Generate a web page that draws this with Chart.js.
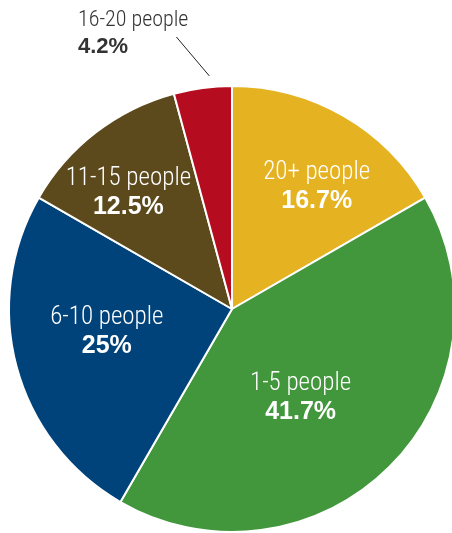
<!DOCTYPE html>
<html>
<head>
<meta charset="utf-8">
<script src="https://cdn.jsdelivr.net/npm/chart.js@4.4.1/dist/chart.umd.min.js"></script>
<style>
    html, body { margin: 0; padding: 0; background: #fff; overflow: hidden; }
    #wrap { position: absolute; left: 0; top: 0; width: 470px; height: 533px; }
</style>
</head>
<body>
<div id="wrap"><canvas id="pie" width="470" height="533"></canvas></div>
<script>
// Data (clockwise from 12 o'clock)
const categories = ['20+ people', '1-5 people', '6-10 people', '11-15 people', '16-20 people'];
const shares = [16.7, 41.7, 25, 12.5, 4.2];
const shareLabels = ['16.7%', '41.7%', '25%', '12.5%', '4.2%'];
const sliceColors = ['#E5B222', '#42973C', '#00437B', '#5C4A1D', '#B50D1F'];

const labelFont = "'Liberation Sans Narrow', 'Roboto Condensed', 'Liberation Sans', sans-serif";
const pctFont = "'Liberation Sans', Arial, sans-serif";

// label placement per slice: angle shift (deg) from the slice middle, radius fraction
const inside = [
    { shift: 4.5, r: 0.67 },
    { shift: 7, r: 0.5 },
    { shift: 5, r: 0.57 },
    { shift: -4, r: 0.7 },
    null
];

const sliceLabels = {
    id: 'sliceLabels',
    afterDatasetsDraw(chart) {
        const ctx = chart.ctx;
        const arcs = chart.getDatasetMeta(0).data;
        ctx.save();
        arcs.forEach((arc, i) => {
            const p = arc.getProps(['x', 'y', 'startAngle', 'endAngle', 'outerRadius']);
            const mid = (p.startAngle + p.endAngle) / 2;
            if (inside[i]) {
                const a = mid + inside[i].shift * Math.PI / 180;
                const cx = p.x + Math.cos(a) * p.outerRadius * inside[i].r;
                const cy = p.y + Math.sin(a) * p.outerRadius * inside[i].r;
                ctx.fillStyle = '#fff';
                ctx.textAlign = 'center';
                ctx.textBaseline = 'middle';
                ctx.font = '300 25px ' + labelFont;
                ctx.fillText(categories[i], cx, cy - 13);
                ctx.font = 'bold 25px ' + pctFont;
                ctx.fillText(shareLabels[i], cx, cy + 15);
            } else {
                // leader line + label outside the pie
                const a1 = mid + 2 * Math.PI / 180;
                const a2 = mid - 4 * Math.PI / 180;
                const x1 = p.x + Math.cos(a1) * p.outerRadius * 1.05;
                const y1 = p.y + Math.sin(a1) * p.outerRadius * 1.05;
                const x2 = p.x + Math.cos(a2) * p.outerRadius * 1.245;
                const y2 = p.y + Math.sin(a2) * p.outerRadius * 1.245;
                ctx.strokeStyle = '#222';
                ctx.lineWidth = 1;
                ctx.beginPath();
                ctx.moveTo(x1, y1);
                ctx.lineTo(x2, y2);
                ctx.stroke();
                ctx.fillStyle = '#333';
                ctx.textAlign = 'left';
                ctx.textBaseline = 'middle';
                ctx.font = '300 22px ' + labelFont;
                ctx.fillText(categories[i], 78, y2 - 16);
                ctx.font = 'bold 22px ' + pctFont;
                ctx.fillText(shareLabels[i], 78, y2 + 10);
            }
        });
        ctx.restore();
    }
};

new Chart(document.getElementById('pie'), {
    type: 'pie',
    data: {
        labels: categories,
        datasets: [{
            data: shares,
            backgroundColor: sliceColors,
            borderColor: '#fff',
            borderWidth: 2
        }]
    },
    options: {
        responsive: false,
        devicePixelRatio: 1,
        animation: false,
        layout: { padding: { left: 8, top: 85, right: 14, bottom: 0 } },
        plugins: {
            legend: { display: false },
            tooltip: { enabled: false }
        }
    },
    plugins: [sliceLabels]
});
</script>
</body>
</html>
